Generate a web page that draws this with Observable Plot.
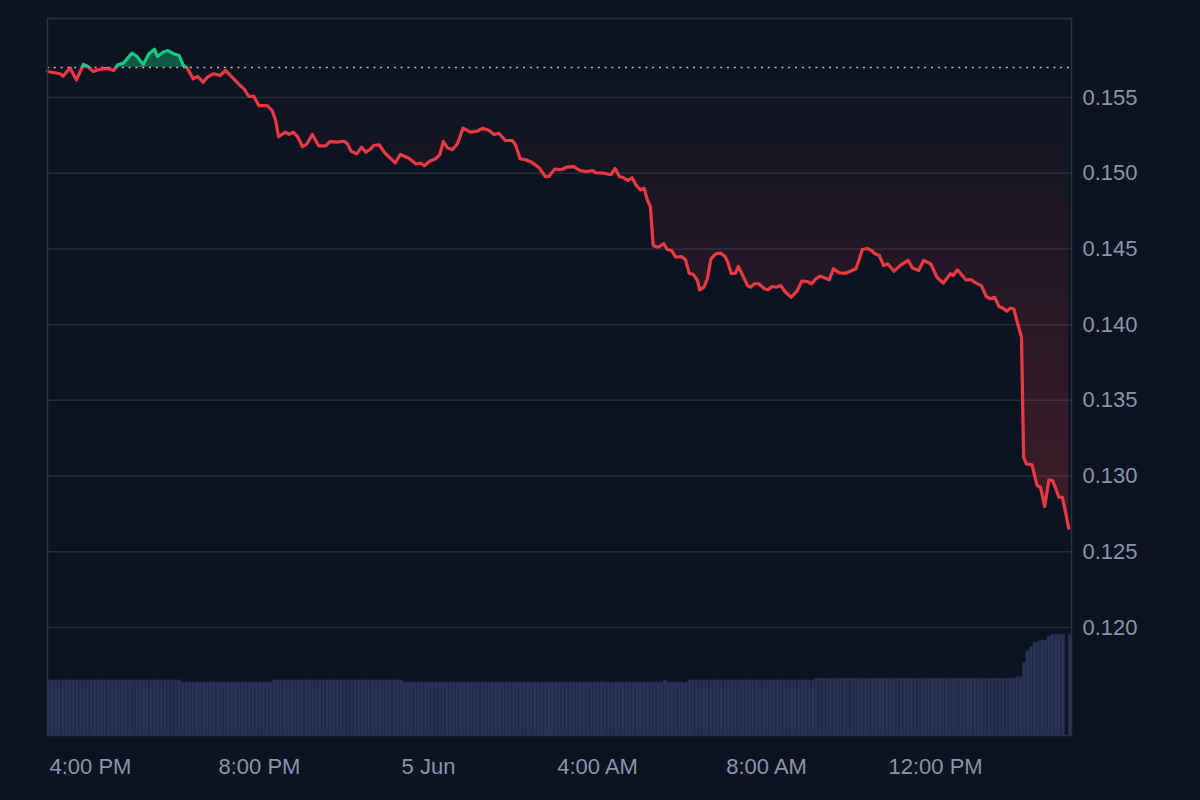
<!DOCTYPE html>
<html>
<head>
<meta charset="utf-8">
<script src="https://cdn.jsdelivr.net/npm/d3@7"></script>
<script src="https://cdn.jsdelivr.net/npm/@observablehq/plot@0.6"></script>
<style>
  html, body { margin: 0; padding: 0; background: #0d1421; }
  #wrap { position: relative; width: 1200px; height: 800px; }
  #wrap svg { position: absolute; left: 0; top: 0; }
</style>
</head>
<body>
<div id="wrap"></div>
<script>
// ---- data ----
// start of the window: 4 Jun, 14:59 local time
const startTime = new Date(2024, 5, 4, 14, 59);
const windowMinutes = 1454;           // visible time span
const baseline = 0.15698;             // reference (opening) price, dotted line

// price samples: minutes after startTime
const minutes = [0,18,22,32,41,51,57,65,73,85,94,100,108,120,127,136,144,152,156,164,171,179,187,193,198,207,213,221,227,236,245,253,262,272,279,286,293,300,312,319,324,328,338,343,349,355,362,368,376,385,395,401,411,421,426,431,439,446,452,459,463,471,478,485,494,501,513,523,530,535,542,551,557,562,568,575,582,590,601,610,618,627,634,641,650,660,665,671,679,688,698,707,712,720,730,737,747,756,766,774,778,790,800,806,812,818,824,830,836,842,847,852,856,860,867,875,880,886,892,900,906,911,917,923,926,932,937,942,949,956,962,966,971,977,981,987,994,998,1004,1010,1018,1023,1029,1035,1041,1048,1056,1064,1071,1079,1085,1091,1097,1103,1110,1116,1124,1133,1140,1148,1152,1157,1164,1170,1175,1181,1187,1193,1202,1211,1222,1228,1237,1244,1254,1263,1272,1282,1286,1292,1304,1311,1318,1326,1333,1339,1345,1351,1358,1362,1367,1372,1377,1383,1386,1390,1398,1405,1410,1416,1422,1427,1431,1436,1441,1446,1450];

const prices = [0.15672,0.15657,0.15641,0.15694,0.15617,0.15718,0.15705,0.15672,0.15685,0.15692,0.15678,0.15716,0.15727,0.15793,0.15771,0.15718,0.15789,0.15819,0.15771,0.15799,0.15810,0.15789,0.15777,0.15711,0.15696,0.15623,0.15639,0.15601,0.15634,0.15657,0.15645,0.15678,0.15634,0.15586,0.15557,0.15507,0.15507,0.15447,0.15447,0.15414,0.15348,0.15242,0.15271,0.15256,0.15271,0.15242,0.15176,0.15190,0.15256,0.15181,0.15181,0.15209,0.15205,0.15211,0.15194,0.15145,0.15128,0.15172,0.15139,0.15161,0.15183,0.15188,0.15139,0.15106,0.15069,0.15124,0.15099,0.15062,0.15066,0.15049,0.15077,0.15095,0.15122,0.15211,0.15168,0.15155,0.15194,0.15297,0.15271,0.15277,0.15297,0.15282,0.15256,0.15264,0.15216,0.15216,0.15183,0.15095,0.15089,0.15071,0.15036,0.14978,0.14978,0.15027,0.15023,0.15040,0.15044,0.15018,0.15011,0.15018,0.15003,0.15000,0.14990,0.15031,0.14978,0.14970,0.14952,0.14970,0.14919,0.14890,0.14902,0.14820,0.14780,0.14523,0.14511,0.14534,0.14496,0.14490,0.14445,0.14450,0.14428,0.14340,0.14331,0.14291,0.14230,0.14247,0.14303,0.14435,0.14468,0.14472,0.14450,0.14412,0.14336,0.14340,0.14384,0.14325,0.14258,0.14247,0.14270,0.14270,0.14237,0.14230,0.14252,0.14247,0.14258,0.14214,0.14181,0.14219,0.14287,0.14285,0.14270,0.14303,0.14320,0.14309,0.14296,0.14369,0.14342,0.14340,0.14353,0.14369,0.14424,0.14496,0.14503,0.14490,0.14468,0.14457,0.14391,0.14402,0.14353,0.14391,0.14424,0.14375,0.14358,0.14424,0.14402,0.14313,0.14274,0.14336,0.14325,0.14362,0.14296,0.14298,0.14276,0.14258,0.14186,0.14171,0.14181,0.14120,0.14105,0.14089,0.14109,0.14105,0.14016,0.13917,0.13125,0.13081,0.13074,0.12938,0.12926,0.12799,0.12975,0.12971,0.12926,0.12860,0.12860,0.12751,0.12656];

// 5-minute volume bars (arbitrary units), one per 5 minutes from startTime; null = no bar
const volumeStepMinutes = 5;
const volume = [
  5.5,5.5,5.5,5.5,5.5,5.5,5.5,5.5,5.5,5.5,
  5.5,5.5,5.5,5.5,5.5,5.5,5.5,5.5,5.5,5.5,
  5.5,5.5,5.5,5.5,5.5,5.5,5.5,5.5,5.5,5.5,
  5.5,5.5,5.5,5.5,5.5,5.5,5.5,5.5,
  5.3,5.3,5.3,5.3,5.3,5.3,5.3,5.3,5.3,5.3,
  5.3,5.3,5.3,5.3,5.3,5.3,5.3,5.3,5.3,5.3,
  5.3,5.3,5.3,5.3,5.3,5.3,
  5.5,5.5,5.5,5.5,5.5,5.5,5.5,5.5,5.5,5.5,
  5.5,5.5,5.5,5.5,5.5,5.5,5.5,5.5,5.5,5.5,
  5.5,5.5,5.5,5.5,5.5,5.5,5.5,5.5,5.5,5.5,
  5.5,5.5,5.5,5.5,5.5,5.5,5.5,
  5.3,5.3,5.3,5.3,5.3,5.3,5.3,5.3,5.3,5.3,
  5.3,5.3,5.3,5.3,5.3,5.3,5.3,5.3,5.3,5.3,
  5.3,5.3,5.3,5.3,5.3,5.3,5.3,5.3,5.3,5.3,
  5.3,5.3,5.3,5.3,5.3,5.3,5.3,5.3,5.3,5.3,
  5.3,5.3,5.3,5.3,5.3,5.3,5.3,5.3,5.3,5.3,
  5.3,5.3,5.3,5.3,5.3,5.3,5.3,5.3,5.3,5.3,
  5.3,5.3,5.3,5.3,5.3,5.3,5.3,5.3,5.3,5.3,
  5.3,5.3,5.3,5.3,
  5.5,
  5.3,5.3,5.3,5.3,5.3,5.3,
  5.5,5.5,5.5,5.5,5.5,5.5,5.5,5.5,5.5,5.5,
  5.5,5.5,5.5,5.5,5.5,5.5,5.5,5.5,5.5,5.5,
  5.5,5.5,5.5,5.5,5.5,5.5,5.5,5.5,5.5,5.5,
  5.5,5.5,5.5,5.5,5.5,5.5,
  5.67,5.67,5.67,5.67,5.67,5.67,5.67,5.67,5.67,5.67,
  5.67,5.67,5.67,5.67,5.67,5.67,5.67,5.67,5.67,5.67,
  5.67,5.67,5.67,5.67,5.67,5.67,5.67,5.67,5.67,5.67,
  5.67,5.67,5.67,5.67,5.67,5.67,5.67,5.67,5.67,5.67,
  5.67,5.67,5.67,5.67,5.67,5.67,5.67,5.67,5.67,5.67,
  5.67,5.67,5.67,5.67,5.67,5.67,5.67,
  5.83,5.83,
  7.23,8.43,8.83,9.23,9.33,9.5,9.5,9.9,
  10.07,10.07,10.07,10.07,
  null,
  10.07
];

const yTicks = [0.120, 0.125, 0.130, 0.135, 0.140, 0.145, 0.150, 0.155];
const yDomain = [0.112868, 0.160217];
const volumeDomain = [0, 71.7];

// ---- colours ----
const UP = "#16c784", DOWN = "#ea3943";
const TEXT = "#8a93a8", GRID = "#262b38", FRAME = "#2c313e";

// ---- build tables ----
const endTime = new Date(+startTime + windowMinutes * 60000);
const series = minutes.map((m, i) => ({date: new Date(+startTime + m * 60000), price: prices[i]}));
const volData = volume.map((v, i) => ({
  t0: new Date(+startTime + i * volumeStepMinutes * 60000),
  t1: new Date(+startTime + (i + 1) * volumeStepMinutes * 60000),
  v
})).filter(d => d.v != null);
const xTicks = d3.timeHour.every(4).range(startTime, endTime);
const fmtDay = d3.timeFormat("%-d %b"), fmtHour = d3.timeFormat("%-I:%M %p");
const xFmt = d => d.getHours() === 0 ? fmtDay(d) : fmtHour(d);

const W = 1200, H = 800;
const margins = {marginLeft: 47, marginRight: 129, marginTop: 18, marginBottom: 65};
const style = {background: "transparent", color: TEXT, fontFamily: "'Liberation Sans', Arial, sans-serif", fontSize: "22px"};

// volume layer (own scale)
const volPlot = Plot.plot({
  width: W, height: H, ...margins, style,
  x: {type: "time", domain: [startTime, endTime], axis: null},
  y: {domain: volumeDomain, axis: null},
  marks: [
    Plot.rectY(volData, {x1: "t0", x2: "t1", y: "v", fill: "#293357", stroke: "#202847", strokeWidth: 0.8})
  ]
});

// price layer
const plot = Plot.plot({
  width: W, height: H, ...margins, style,
  x: {type: "time", domain: [startTime, endTime], label: null},
  y: {domain: yDomain, label: null},
  marks: [
    Plot.ruleY(yTicks, {stroke: GRID, strokeWidth: 1.5}),
    Plot.areaY(series, {x: "date", y1: baseline, y2: "price", fill: "url(#areaGrad)"}),
    Plot.ruleY([baseline], {stroke: "#b4b9c7", strokeWidth: 1.6, strokeDasharray: "2,4.8"}),
    Plot.line(series, {x: "date", y: "price", stroke: "url(#lineGrad)", strokeWidth: 3.2, strokeLinejoin: "round", strokeLinecap: "round"}),
    Plot.frame({stroke: FRAME, strokeWidth: 1.5}),
    Plot.axisY({anchor: "right", label: null, ticks: yTicks, tickFormat: d3.format(".3f"), tickSize: 0, tickPadding: 11, fill: TEXT, fontSize: 22}),
    Plot.axisX({label: null, ticks: xTicks, tickFormat: xFmt, tickSize: 0, tickPadding: 23, fill: TEXT, fontSize: 22})
  ]
});

// gradients tied to the baseline position from the y scale
const yb = plot.scale("y").apply(baseline);
const yBottom = H - margins.marginBottom;
const defs = d3.select(plot).insert("defs", ":first-child");
const lg = defs.append("linearGradient").attr("id", "lineGrad")
  .attr("gradientUnits", "userSpaceOnUse").attr("x1", 0).attr("y1", 0).attr("x2", 0).attr("y2", H);
lg.append("stop").attr("offset", 0).attr("stop-color", UP);
lg.append("stop").attr("offset", yb / H).attr("stop-color", UP);
lg.append("stop").attr("offset", yb / H).attr("stop-color", DOWN);
lg.append("stop").attr("offset", 1).attr("stop-color", DOWN);
const ag = defs.append("linearGradient").attr("id", "areaGrad")
  .attr("gradientUnits", "userSpaceOnUse").attr("x1", 0).attr("y1", 0).attr("x2", 0).attr("y2", H);
ag.append("stop").attr("offset", 0).attr("stop-color", UP).attr("stop-opacity", 0.38);
ag.append("stop").attr("offset", yb / H).attr("stop-color", UP).attr("stop-opacity", 0.38);
ag.append("stop").attr("offset", yb / H).attr("stop-color", DOWN).attr("stop-opacity", 0);
ag.append("stop").attr("offset", yBottom / H).attr("stop-color", DOWN).attr("stop-opacity", 0.34);

const wrap = document.getElementById("wrap");
wrap.appendChild(volPlot);
wrap.appendChild(plot);
</script>
</body>
</html>
